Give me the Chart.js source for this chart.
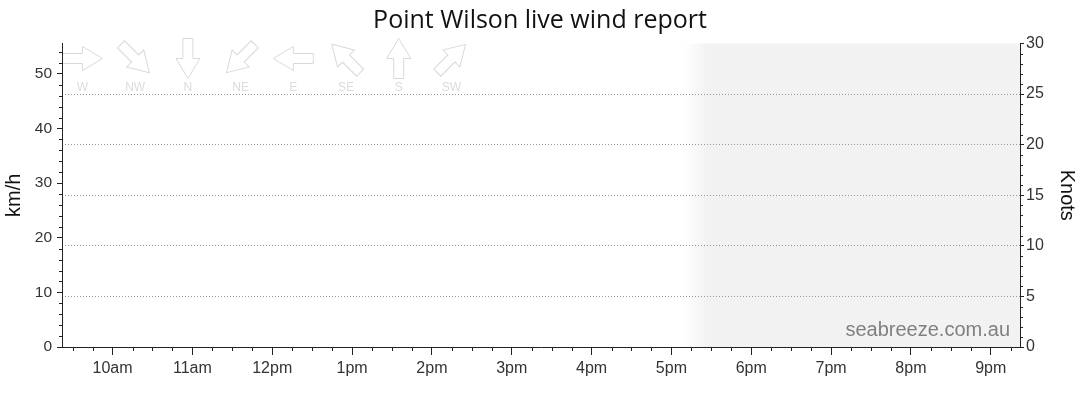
<!DOCTYPE html>
<html>
<head>
<meta charset="utf-8">
<script src="https://cdn.jsdelivr.net/npm/chart.js@4.4.0/dist/chart.umd.min.js"></script>
<style>
html,body{margin:0;padding:0;background:#fff;}
#wrap{width:1080px;height:414px;position:relative;}
</style>
</head>
<body>
<div id="wrap"><canvas id="c" width="1080" height="414"></canvas></div>
<script>
// ---- data ----
const titleText = 'Point Wilson live wind report';
const hourValues = [10, 11, 12, 13, 14, 15, 16, 17, 18, 19, 20, 21];
const hourLabels = ['10am', '11am', '12pm', '1pm', '2pm', '3pm', '4pm', '5pm', '6pm', '7pm', '8pm', '9pm'];
const xStart = 9 + 22 / 60;
const xEnd = 21 + 22 / 60;
const kmhTicks = [0, 10, 20, 30, 40, 50];
const knotTicks = [0, 5, 10, 15, 20, 25, 30];
const knotMax = 30;
const KMH_PER_KNOT = 1.852;
const directions = ['W', 'NW', 'N', 'NE', 'E', 'SE', 'S', 'SW'];
const directionBearings = [270, 315, 0, 45, 90, 135, 180, 225];
const shadeStart = 17.15;
const shadeFull = 17.45;
const watermark = 'seabreeze.com.au';
const windSpeedKnots = [];
const windGustKnots = [];

// ---- plugins ----
const backgroundPlugin = {
  id: 'bgShade',
  beforeDraw(chart) {
    const {ctx, chartArea: a, scales: {x}} = chart;
    const x0 = x.getPixelForValue(shadeStart);
    const x1 = x.getPixelForValue(shadeFull);
    ctx.save();
    const g = ctx.createLinearGradient(x0, 0, x1, 0);
    g.addColorStop(0, 'rgba(242,242,242,0)');
    g.addColorStop(1, 'rgba(242,242,242,1)');
    ctx.fillStyle = g;
    ctx.fillRect(x0, a.top, a.right - x0, a.bottom - a.top);

    // direction legend arrows
    ctx.lineWidth = 1;
    directions.forEach((d, i) => {
      const cx = a.left + 20.5 + i * 52.7;
      const cy = a.top + 15;
      const bearing = (directionBearings[i] + 180) % 360;
      ctx.save();
      ctx.translate(cx, cy);
      ctx.rotate(bearing * Math.PI / 180);
      ctx.beginPath();
      ctx.moveTo(0, -20);
      ctx.lineTo(12, 0);
      ctx.lineTo(5, 0);
      ctx.lineTo(5, 20);
      ctx.lineTo(-5, 20);
      ctx.lineTo(-5, 0);
      ctx.lineTo(-12, 0);
      ctx.closePath();
      ctx.fillStyle = '#ffffff';
      ctx.fill();
      ctx.strokeStyle = '#d9d9d9';
      ctx.stroke();
      ctx.restore();
      ctx.fillStyle = '#dcdcdc';
      ctx.font = '12px "Liberation Sans", Arial, sans-serif';
      ctx.textAlign = 'center';
      ctx.textBaseline = 'middle';
      ctx.fillText(d, cx, cy + 29);
    });
    ctx.restore();
  }
};

const minorTickPlugin = {
  id: 'minorTicks',
  afterDraw(chart) {
    const {ctx, chartArea: a, scales} = chart;
    ctx.save();
    ctx.strokeStyle = '#222';
    ctx.lineWidth = 1;
    ctx.beginPath();
    const x = scales.x;
    for (let q = Math.ceil(xStart * 4); q <= Math.floor(xEnd * 4); q++) {
      if (q % 4 === 0) continue;
      const px = Math.round(x.getPixelForValue(q / 4)) + 0.5;
      ctx.moveTo(px, a.bottom);
      ctx.lineTo(px, a.bottom + 4);
    }
    const yk = scales.kmh;
    for (let v = 2; v < knotMax * KMH_PER_KNOT; v += 2) {
      if (v % 10 === 0) continue;
      const py = Math.round(yk.getPixelForValue(v)) + 0.5;
      ctx.moveTo(a.left - 3, py);
      ctx.lineTo(a.left, py);
    }
    const yn = scales.knots;
    for (let v = 1; v < knotMax; v++) {
      if (v % 5 === 0) continue;
      const py = Math.round(yn.getPixelForValue(v)) + 0.5;
      ctx.moveTo(a.right, py);
      ctx.lineTo(a.right + 3, py);
    }
    ctx.stroke();

    ctx.fillStyle = '#808080';
    ctx.font = '20px "Liberation Sans", Arial, sans-serif';
    ctx.textAlign = 'right';
    ctx.textBaseline = 'alphabetic';
    ctx.fillText(watermark, a.right - 10, a.bottom - 11);
    ctx.restore();
  }
};

// ---- chart ----
new Chart(document.getElementById('c'), {
  type: 'line',
  data: {
    datasets: [
      {label: 'Wind speed', data: windSpeedKnots, yAxisID: 'knots', borderColor: '#1f77b4'},
      {label: 'Wind gust', data: windGustKnots, yAxisID: 'knots', borderColor: '#d62728'}
    ]
  },
  options: {
    responsive: false,
    animation: false,
    layout: {padding: 0},
    plugins: {
      legend: {display: false},
      tooltip: {enabled: false},
      title: {
        display: true,
        text: titleText,
        color: '#111',
        font: {family: '"Open Sans", sans-serif', size: 25, weight: 'normal'},
        padding: {top: 6, bottom: 7.5}
      }
    },
    scales: {
      x: {
        type: 'linear',
        position: 'bottom',
        min: xStart,
        max: xEnd,
        afterBuildTicks: s => { s.ticks = hourValues.map(v => ({value: v})); },
        afterFit: s => { s.height = 67; },
        ticks: {
          autoSkip: false,
          maxRotation: 0,
          padding: 4,
          color: '#333',
          font: {family: '"Liberation Sans", Arial, sans-serif', size: 16},
          callback: v => hourLabels[hourValues.indexOf(v)]
        },
        grid: {drawOnChartArea: false, tickLength: 8, tickColor: '#222'},
        border: {color: '#222'}
      },
      kmh: {
        type: 'linear',
        position: 'left',
        min: 0,
        max: knotMax * KMH_PER_KNOT,
        afterBuildTicks: s => { s.ticks = kmhTicks.map(v => ({value: v})); },
        afterFit: s => { s.width = 62; },
        ticks: {
          padding: 5,
          color: '#333',
          font: {family: '"Liberation Sans", Arial, sans-serif', size: 15.5}
        },
        grid: {drawOnChartArea: false, tickLength: 5, tickColor: '#222'},
        border: {color: '#222'},
        title: {
          display: true,
          text: 'km/h',
          color: '#111',
          font: {family: '"Liberation Sans", Arial, sans-serif', size: 20},
          padding: {top: 2.5, bottom: 0}
        }
      },
      knots: {
        type: 'linear',
        position: 'right',
        min: 0,
        max: knotMax,
        afterBuildTicks: s => { s.ticks = knotTicks.map(v => ({value: v})); },
        afterFit: s => { s.width = 60; },
        ticks: {
          padding: 2,
          color: '#333',
          font: {family: '"Liberation Sans", Arial, sans-serif', size: 16}
        },
        grid: {
          drawOnChartArea: true,
          tickLength: 4,
          tickColor: '#222',
          color: c => (c.tick && (c.tick.value === 0 || c.tick.value === knotMax)) ? 'rgba(0,0,0,0)' : '#9a9a9a'
        },
        border: {color: '#222', dash: [1, 2]},
        title: {
          display: true,
          text: 'Knots',
          color: '#111',
          font: {family: '"Liberation Sans", Arial, sans-serif', size: 20},
          padding: {top: 1.5, bottom: 0}
        }
      }
    }
  },
  plugins: [backgroundPlugin, minorTickPlugin]
});
</script>
</body>
</html>
